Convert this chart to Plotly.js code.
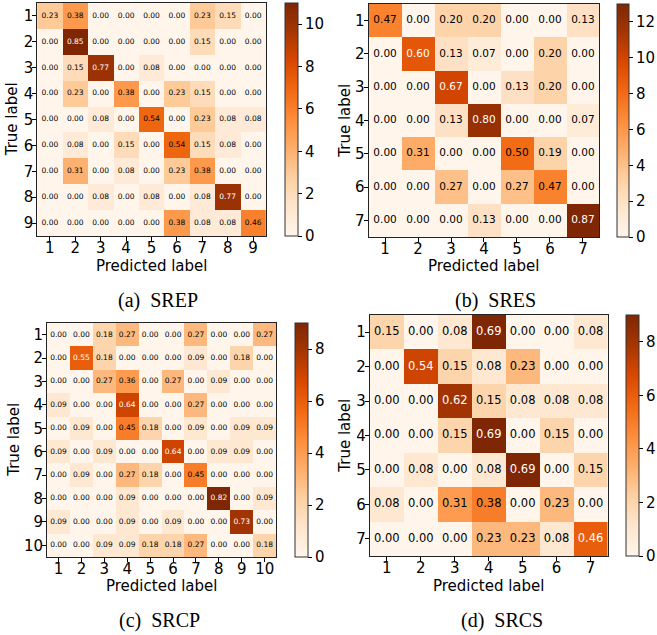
<!DOCTYPE html>
<html>
<head>
<meta charset="utf-8">
<script src="https://cdn.plot.ly/plotly-3.0.1.min.js"></script>
<style>html,body{margin:0;padding:0;background:#fff;}#chart{width:657px;height:635px;}</style>
</head>
<body>
<div id="chart"></div>
<script>
// ---- Data (normalized values shown in cells; colour = counts) ----
const labelsA = ['1','2','3','4','5','6','7','8','9'];
const valuesA = [
  [0.23,0.38,0.00,0.00,0.00,0.00,0.23,0.15,0.00],
  [0.00,0.85,0.00,0.00,0.00,0.00,0.15,0.00,0.00],
  [0.00,0.15,0.77,0.00,0.08,0.00,0.00,0.00,0.00],
  [0.00,0.23,0.00,0.38,0.00,0.23,0.15,0.00,0.00],
  [0.00,0.00,0.08,0.00,0.54,0.00,0.23,0.08,0.08],
  [0.00,0.08,0.00,0.15,0.00,0.54,0.15,0.08,0.00],
  [0.00,0.31,0.00,0.08,0.00,0.23,0.38,0.00,0.00],
  [0.00,0.00,0.08,0.00,0.08,0.00,0.08,0.77,0.00],
  [0.00,0.00,0.00,0.00,0.00,0.38,0.08,0.08,0.46]
];
const rowTotalsA = [13,13,13,13,13,13,13,13,13];

const labelsB = ['1','2','3','4','5','6','7'];
const valuesB = [
  [0.47,0.00,0.20,0.20,0.00,0.00,0.13],
  [0.00,0.60,0.13,0.07,0.00,0.20,0.00],
  [0.00,0.00,0.67,0.00,0.13,0.20,0.00],
  [0.00,0.00,0.13,0.80,0.00,0.00,0.07],
  [0.00,0.31,0.00,0.00,0.50,0.19,0.00],
  [0.00,0.00,0.27,0.00,0.27,0.47,0.00],
  [0.00,0.00,0.00,0.13,0.00,0.00,0.87]
];
const rowTotalsB = [15,15,15,15,16,15,15];

const labelsC = ['1','2','3','4','5','6','7','8','9','10'];
const valuesC = [
  [0.00,0.00,0.18,0.27,0.00,0.00,0.27,0.00,0.00,0.27],
  [0.00,0.55,0.18,0.00,0.00,0.00,0.09,0.00,0.18,0.00],
  [0.00,0.00,0.27,0.36,0.00,0.27,0.00,0.09,0.00,0.00],
  [0.09,0.00,0.00,0.64,0.00,0.00,0.27,0.00,0.00,0.00],
  [0.00,0.09,0.00,0.45,0.18,0.00,0.09,0.00,0.09,0.09],
  [0.09,0.00,0.09,0.00,0.00,0.64,0.00,0.09,0.09,0.00],
  [0.00,0.09,0.00,0.27,0.18,0.00,0.45,0.00,0.00,0.00],
  [0.00,0.00,0.00,0.09,0.00,0.00,0.00,0.82,0.00,0.09],
  [0.09,0.00,0.00,0.09,0.00,0.09,0.00,0.00,0.73,0.00],
  [0.00,0.00,0.09,0.09,0.18,0.18,0.27,0.00,0.00,0.18]
];
const rowTotalsC = [11,11,11,11,11,11,11,11,11,11];

const labelsD = ['1','2','3','4','5','6','7'];
const valuesD = [
  [0.15,0.00,0.08,0.69,0.00,0.00,0.08],
  [0.00,0.54,0.15,0.08,0.23,0.00,0.00],
  [0.00,0.00,0.62,0.15,0.08,0.08,0.08],
  [0.00,0.00,0.15,0.69,0.00,0.15,0.00],
  [0.00,0.08,0.00,0.08,0.69,0.00,0.15],
  [0.08,0.00,0.31,0.38,0.00,0.23,0.00],
  [0.00,0.00,0.00,0.23,0.23,0.08,0.46]
];
const rowTotalsD = [13,13,13,13,13,13,13];

const captions = ['(a)\u2002SREP','(b)\u2002SRES','(c)\u2002SRCP','(d)\u2002SRCS'];
const xTitle = 'Predicted label';
const yTitle = 'True label';

// ---- Styling / layout (pixels) ----
const W = 657, H = 635;
const oranges = [[0,'#fff5eb'],[0.125,'#fee6ce'],[0.25,'#fdd0a2'],[0.375,'#fdae6b'],
  [0.5,'#fd8d3c'],[0.625,'#f16913'],[0.75,'#d94801'],[0.875,'#a63603'],[1,'#7f2704']];

const panels = [
  {labels:labelsA, vals:valuesA, tot:rowTotalsA, box:[37.7,269.5,3,236], cb:[289,13], ts:7.5, cap:[160,300], yt:13, xt:266},
  {labels:labelsB, vals:valuesB, tot:rowTotalsB, box:[373.7,607.7,4,237], cb:[626,12], ts:10.5, cap:[502,300], yt:349, xt:266},
  {labels:labelsC, vals:valuesC, tot:rowTotalsC, box:[47.7,280,323,557], cb:[299,13], ts:7.5, cap:[162,620], yt:14, xt:586},
  {labels:labelsD, vals:valuesD, tot:rowTotalsD, box:[375,616,315,556], cb:[635,13], ts:11.5, cap:[509,620], yt:349, xt:586}
];

const traces = [];
const layout = {
  width: W, height: H,
  margin: {l:0, r:0, t:0, b:0},
  paper_bgcolor: '#fff', plot_bgcolor: '#fff',
  font: {family: 'DejaVu Sans', color: '#000', size: 15},
  showlegend: false,
  annotations: []
};

panels.forEach((p, i) => {
  const k = i + 1;
  const xa = 'x' + (k === 1 ? '' : k), ya = 'y' + (k === 1 ? '' : k);
  const xaxisKey = 'xaxis' + (k === 1 ? '' : k), yaxisKey = 'yaxis' + (k === 1 ? '' : k);
  const caKey = 'coloraxis' + (k === 1 ? '' : k);
  const n = p.labels.length;
  const idx = p.labels.map((_, j) => j + 1);
  const z = p.vals.map((row, r) => row.map(v => Math.round(v * p.tot[r])));
  let zmax = 0; z.forEach(r => r.forEach(v => { if (v > zmax) zmax = v; }));
  let vmax = 0; p.vals.forEach(r => r.forEach(v => { if (v > vmax) vmax = v; }));

  traces.push({
    type: 'heatmap', z: z, x: idx, y: idx, xaxis: xa, yaxis: ya,
    coloraxis: caKey, hoverinfo: 'skip'
  });

  const tx = [], ty = [], tt = [], tc = [];
  p.vals.forEach((row, r) => row.forEach((v, c) => {
    tx.push(c + 1); ty.push(r + 1); tt.push(v.toFixed(2));
    tc.push(v > vmax / 1.5 ? '#ffffff' : '#000000');
  }));
  traces.push({
    type: 'scatter', mode: 'text', x: tx, y: ty, text: tt, xaxis: xa, yaxis: ya,
    textposition: 'middle center', hoverinfo: 'skip', cliponaxis: false,
    textfont: {family: 'DejaVu Sans', size: p.ts, color: tc}
  });

  const [x0, x1, y0, y1] = p.box;
  const common = {
    ticks: 'outside', ticklen: 4, tickwidth: 1, tickcolor: '#000',
    showline: true, mirror: true, linecolor: '#222', linewidth: 1,
    showgrid: false, zeroline: false, automargin: false, fixedrange: true,
    tickfont: {size: 15}, tickvals: idx, ticktext: p.labels
  };
  layout[xaxisKey] = Object.assign({}, common, {
    domain: [x0 / W, x1 / W], range: [0.5, n + 0.5], anchor: ya,
    ticklabelstandoff: -6
  });
  layout[yaxisKey] = Object.assign({}, common, {
    domain: [1 - y1 / H, 1 - y0 / H], range: [n + 0.5, 0.5], anchor: xa,
    ticklabelstandoff: -4
  });
  layout[caKey] = {
    colorscale: oranges, cmin: 0, cmax: zmax,
    colorbar: {
      x: p.cb[0] / W, xanchor: 'left', xref: 'paper',
      y: 1 - y0 / H, yanchor: 'top', yref: 'paper',
      len: (y1 - y0) / H, lenmode: 'fraction',
      thickness: p.cb[1], thicknessmode: 'pixels',
      outlinewidth: 1, outlinecolor: '#333',
      ticks: 'outside', ticklen: 4, tickwidth: 1, tickcolor: '#000',
      tick0: 0, dtick: 2, tickfont: {size: 15},
      xpad: 0, ypad: 0
    }
  };
  // axis titles
  layout.annotations.push({
    text: xTitle, xref: 'paper', yref: 'paper',
    x: (x0 + x1) / 2 / W, y: 1 - p.xt / H, xanchor: 'center', yanchor: 'middle',
    showarrow: false, font: {family: 'DejaVu Sans', size: 15, color: '#000'}
  });
  layout.annotations.push({
    text: yTitle, xref: 'paper', yref: 'paper', textangle: -90,
    x: p.yt / W, y: 1 - (y0 + y1) / 2 / H, xanchor: 'center', yanchor: 'middle',
    showarrow: false, font: {family: 'DejaVu Sans', size: 15, color: '#000'}
  });
  layout.annotations.push({
    text: captions[i], xref: 'paper', yref: 'paper',
    x: p.cap[0] / W, y: 1 - p.cap[1] / H, xanchor: 'center', yanchor: 'middle',
    showarrow: false, font: {family: 'Liberation Serif', size: 20, color: '#000'}
  });
});

Plotly.newPlot('chart', traces, layout, {displayModeBar: false, staticPlot: true});
</script>
</body>
</html>
